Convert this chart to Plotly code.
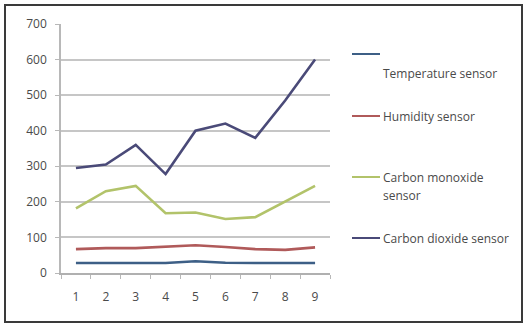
import plotly.graph_objects as go

# Sensor readings over nine samples
samples = [1, 2, 3, 4, 5, 6, 7, 8, 9]
temperature = [28, 28, 28, 28, 33, 29, 28, 28, 28]
humidity = [67, 70, 70, 75, 78, 73, 67, 65, 72]
carbon_monoxide = [182, 230, 245, 168, 170, 152, 157, 200, 245]
carbon_dioxide = [295, 305, 360, 278, 400, 420, 380, 485, 600]

series_names = ["Temperature sensor", "Humidity sensor",
                "Carbon monoxide sensor", "Carbon dioxide sensor"]
series_values = [temperature, humidity, carbon_monoxide, carbon_dioxide]
series_colors = ["#3d5f86", "#b05a5a", "#b2c36a", "#4a4a78"]

y_ticks = [0, 100, 200, 300, 400, 500, 600, 700]

W, H = 526, 325
L, R, T, B = 61, 196, 24, 52
PW, PH = W - L - R, H - T - B


def px(x):
    return (x - L) / PW


def py(y):
    return (H - B - y) / PH


fig = go.Figure()
for name, vals, col in zip(series_names, series_values, series_colors):
    fig.add_trace(go.Scatter(x=samples, y=vals, mode="lines", name=name,
                             line=dict(color=col, width=2.6), showlegend=False))

font = dict(family="Open Sans", size=12, color="#4a4a4a")

fig.update_layout(
    width=W, height=H,
    margin=dict(l=L, r=R, t=T, b=B),
    paper_bgcolor="white", plot_bgcolor="white",
    font=font,
    xaxis=dict(range=[0.5, 9.5], tickmode="array", tickvals=samples,
               ticktext=[str(s) for s in samples], ticks="", showgrid=False,
               zeroline=False, showline=True, linecolor="#b0b0b0", linewidth=1.5,
               ticklabelstandoff=12,
               minor=dict(tickmode="linear", tick0=0.5, dtick=1, ticks="outside",
                          ticklen=4, tickcolor="#b8b8b8", showgrid=False)),
    yaxis=dict(range=[0, 700], tickmode="array", tickvals=y_ticks,
               ticks="outside", ticklen=4, tickcolor="#b8b8b8",
               showgrid=True, gridcolor="#c6c6c6", gridwidth=2,
               zeroline=False, showline=True, linecolor="#b8b8b8", linewidth=1.5,
               ticklabelstandoff=6),
)

# Outer chart border
fig.add_shape(type="rect", xref="paper", yref="paper",
              x0=px(5), x1=px(522), y0=py(322), y1=py(5),
              line=dict(color="#3a3a3a", width=2), fillcolor="rgba(0,0,0,0)")

# Hand-placed legend: line sample + label lines for each series
legend_rows = [
    (54, [("Temperature sensor", 73)]),
    (116, [("Humidity sensor", 116)]),
    (177, [("Carbon monoxide", 177), ("sensor", 195)]),
    (238, [("Carbon dioxide sensor", 238)]),
]
for (ly, labels), col in zip(legend_rows, series_colors):
    fig.add_shape(type="line", xref="paper", yref="paper",
                  x0=px(352), x1=px(380), y0=py(ly), y1=py(ly),
                  line=dict(color=col, width=2))
    for text, ty in labels:
        fig.add_annotation(xref="paper", yref="paper", x=px(381), y=py(ty),
                           text=text, showarrow=False, xanchor="left",
                           yanchor="middle", align="left", font=font)

fig.write_html("out.html")
